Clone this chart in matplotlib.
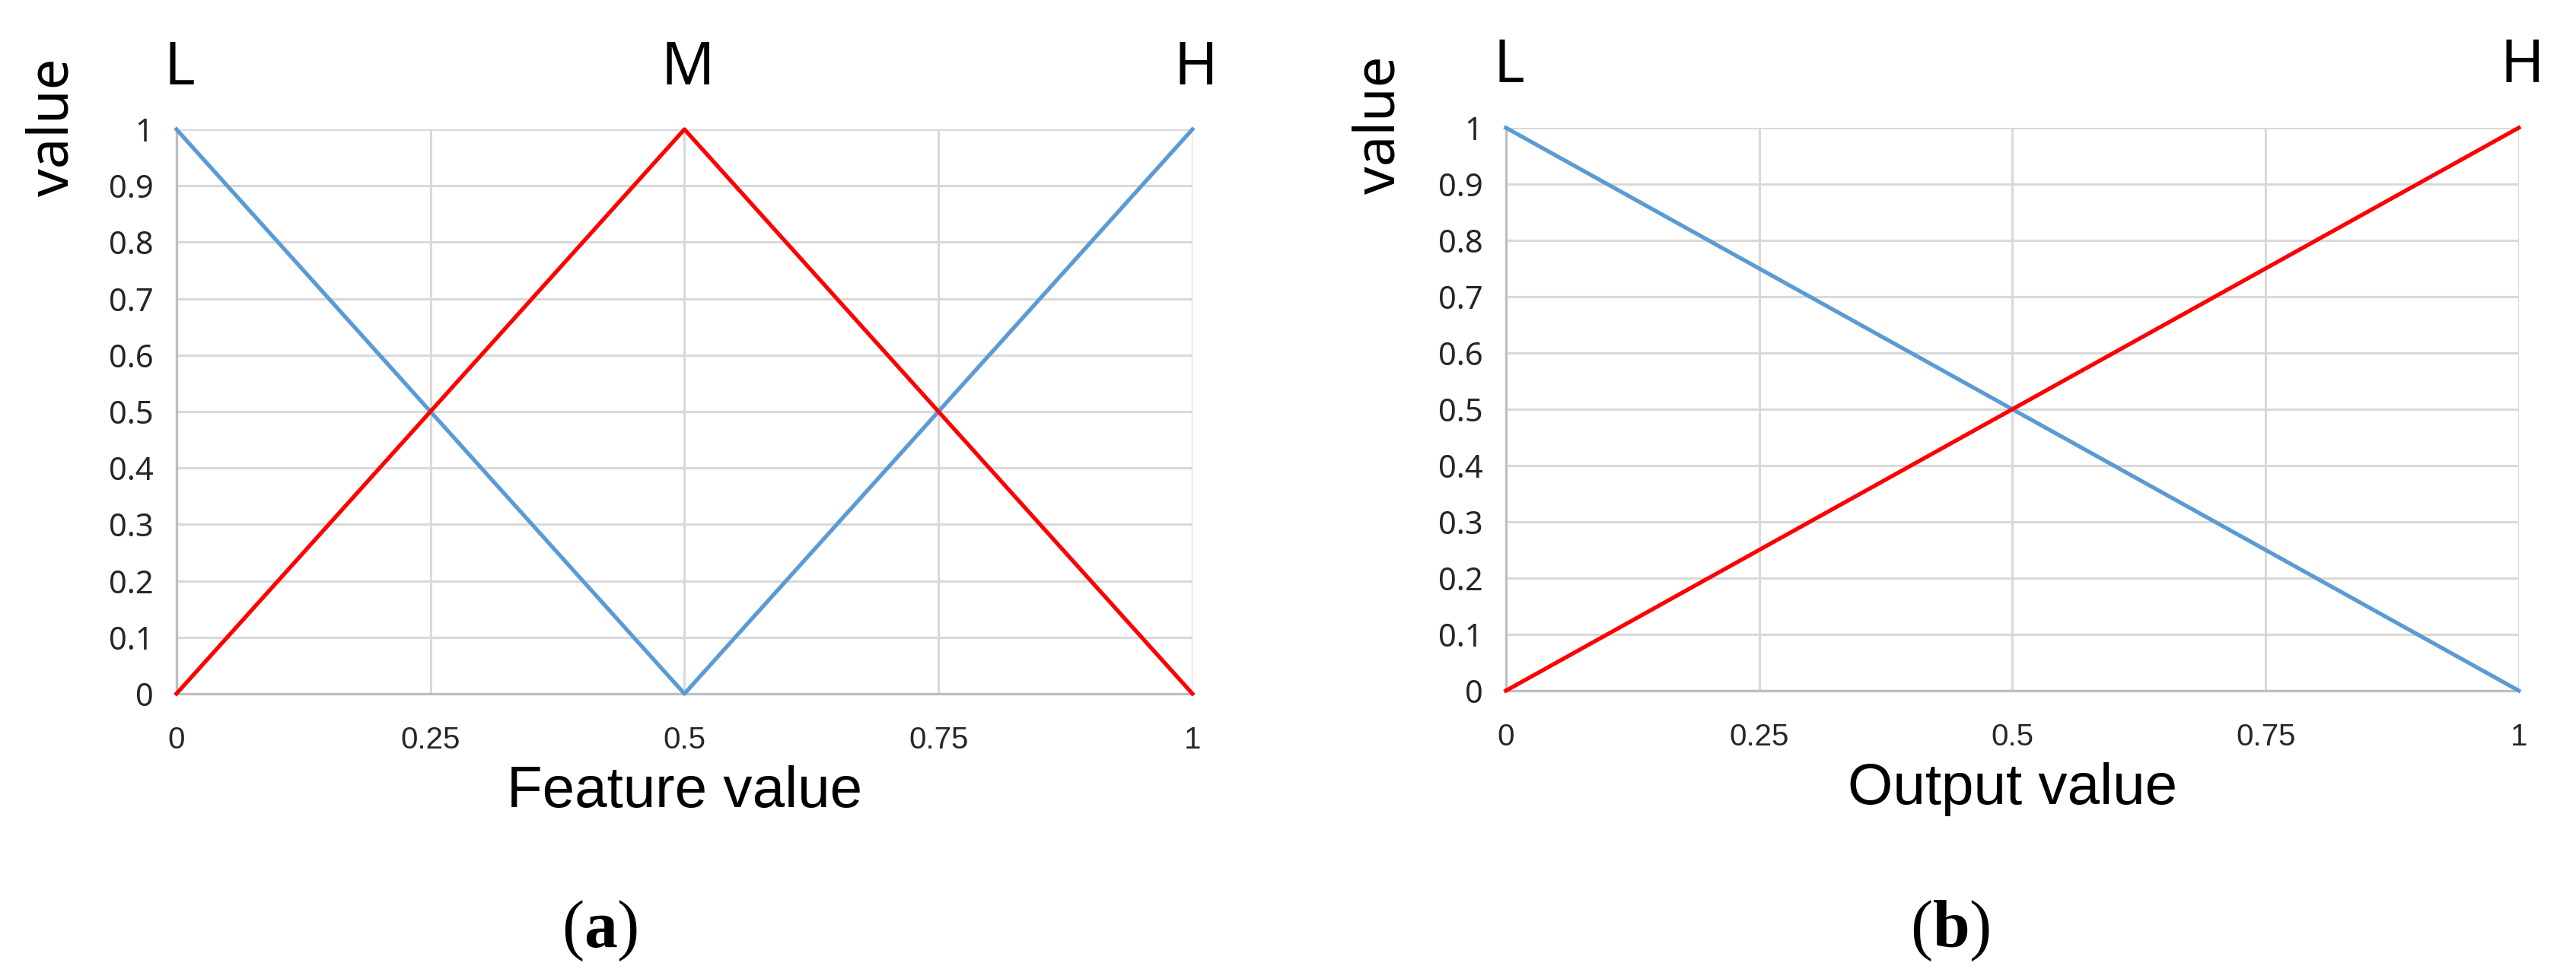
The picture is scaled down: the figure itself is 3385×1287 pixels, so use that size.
import matplotlib
matplotlib.use('Agg')
import matplotlib.pyplot as plt

# membership function data
feat_x = [0, 0.5, 1]
feat_low_high = [1, 0, 1]   # blue: L then H
feat_mid = [0, 1, 0]        # red: M
out_x = [0, 1]
out_low = [1, 0]
out_high = [0, 1]

x_ticks = [0, 0.25, 0.5, 0.75, 1]
x_tick_labels = ['0', '0.25', '0.5', '0.75', '1']
y_ticks = [i / 10 for i in range(11)]
y_tick_labels = ['0'] + ['0.%d' % i for i in range(1, 10)] + ['1']

BLUE = '#5B9BD5'
RED = '#FF0000'
GRID = '#d9d9d9'
SPINE = '#bfbfbf'

plt.rcParams['mathtext.fontset'] = 'custom'
plt.rcParams['mathtext.bf'] = 'Liberation Serif:bold'
plt.rcParams['mathtext.rm'] = 'Liberation Serif'

fig = plt.figure(figsize=(33.85, 12.87), dpi=100)
ax1 = fig.add_axes([0.0685, 0.2914, 0.3944, 0.5765])
ax2 = fig.add_axes([0.5846, 0.2945, 0.3932, 0.575])

sans = ['Noto Sans', 'DejaVu Sans']
narrow = ['Liberation Sans', 'DejaVu Sans']


def style(ax, xlabel, tops):
    ax.set_xlim(0, 1)
    ax.set_ylim(0, 1)
    ax.set_xticks(x_ticks)
    ax.set_yticks(y_ticks)
    ax.set_xticklabels(x_tick_labels, family=narrow, fontsize=29, color='#262626')
    ax.set_yticklabels(y_tick_labels, family=sans, fontsize=30, color='#262626')
    ax.tick_params(length=0, pad=0)
    ax.tick_params(axis='x', pad=30)
    ax.tick_params(axis='y', pad=22)
    ax.grid(True, color=GRID, linewidth=2.2)
    ax.set_axisbelow(True)
    for s in ['top', 'right']:
        ax.spines[s].set_visible(False)
    for s in ['left', 'bottom']:
        ax.spines[s].set_color(SPINE)
        ax.spines[s].set_linewidth(2.4)
    ax.set_xlabel(xlabel, family=narrow, fontsize=55, labelpad=10)
    for xv, lab in tops:
        ax.annotate(lab, xy=(xv, 1), xytext=(4, 80), textcoords='offset pixels',
                    ha='center', va='center', fontsize=56, family=sans)


ax1.plot(feat_x, feat_low_high, color=BLUE, linewidth=3.8, clip_on=False, zorder=3)
ax1.plot(feat_x, feat_mid, color=RED, linewidth=3.8, clip_on=False, zorder=4)
style(ax1, 'Feature value', [(0, 'L'), (0.5, 'M'), (1, 'H')])

ax2.plot(out_x, out_low, color=BLUE, linewidth=3.8, clip_on=False, zorder=3)
ax2.plot(out_x, out_high, color=RED, linewidth=3.8, clip_on=False, zorder=4)
style(ax2, 'Output value', [(0, 'L'), (1, 'H')])

fig.text(0.0207, 0.870, 'value', rotation=90, ha='center', va='center',
         fontsize=52, family=sans)
fig.text(0.5356, 0.872, 'value', rotation=90, ha='center', va='center',
         fontsize=52, family=sans)

fig.text(788 / 3385, 1 - 1224 / 1287, r'($\mathbf{a}$)', ha='center', va='center',
         fontsize=63, family='Liberation Serif')
fig.text(2563 / 3385, 1 - 1224 / 1287, r'($\mathbf{b}$)', ha='center', va='center',
         fontsize=63, family='Liberation Serif')

fig.savefig('out.png', dpi=100, facecolor='white')
